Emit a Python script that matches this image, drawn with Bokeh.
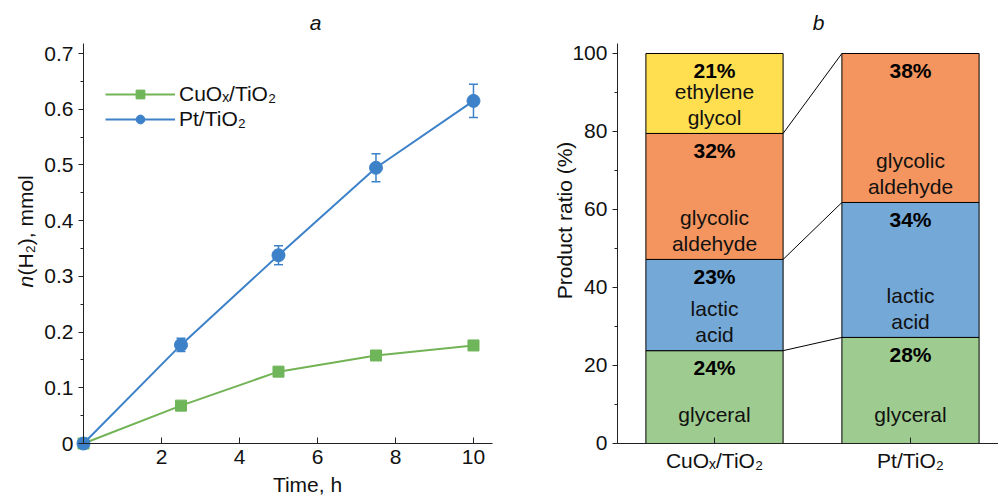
import math
from bokeh.plotting import figure
from bokeh.models import (Range1d, FixedTicker, Whisker, ColumnDataSource, Legend,
                          LegendItem, Label, TeeHead, LinearAxis)
from bokeh.layouts import row
from bokeh.embed import file_html
from bokeh.resources import INLINE
from bokeh.core.properties import value

# ---------------- data: panel a ----------------
time_h = [0, 2.5, 5, 7.5, 10]
cuox_h2 = [0, 0.068, 0.129, 0.158, 0.176]
pt_h2 = [0, 0.177, 0.338, 0.495, 0.615]
pt_err = [0, 0.012, 0.017, 0.025, 0.030]
x_ticks_a = [2, 4, 6, 8, 10]
y_ticks_a = [0, 0.1, 0.2, 0.3, 0.4, 0.5, 0.6, 0.7]
y_tick_labels_a = ["0", "0.1", "0.2", "0.3", "0.4", "0.5", "0.6", "0.7"]

# ---------------- data: panel b ----------------
catalysts = ["CuOₓ/TiO₂", "Pt/TiO₂"]
products = ["glyceral", "lactic\nacid", "glycolic\naldehyde", "ethylene\nglycol"]
cuox_ratio = [23.8, 23.4, 32.3, 20.5]
pt_ratio = [27.2, 34.6, 38.2, 0]
cuox_pct = ["24%", "23%", "32%", "21%"]
pt_pct = ["28%", "34%", "38%", ""]
y_ticks_b = [0, 20, 40, 60, 80, 100]

FONT = "Liberation Sans"
FS = "21px"
AX = "#222222"
TXT = "#111111"
GREEN_L = "#72B356"
GREEN_M = "#6FB55A"
BLUE = "#3D82C9"
prod_colors = ["#9ECB8F", "#74A8D6", "#F4955F", "#FFDF50"]


def make_axes(p, x_loc, y_loc, x_bounds, y_bounds, x_ticker, y_ticker):
    xa = LinearAxis(fixed_location=x_loc, bounds=x_bounds, ticker=x_ticker)
    ya = LinearAxis(fixed_location=y_loc, bounds=y_bounds, ticker=y_ticker)
    for ax in (xa, ya):
        ax.axis_line_color = AX
        ax.major_tick_line_color = AX
        ax.minor_tick_line_color = AX
        ax.major_label_text_font = FONT
        ax.major_label_text_font_size = FS
        ax.major_label_text_color = TXT
    xa.major_tick_in = 6
    xa.major_tick_out = 0
    xa.minor_tick_line_color = None
    xa.major_label_standoff = 6
    ya.major_tick_in = 0
    ya.major_tick_out = 5
    ya.minor_tick_in = 0
    ya.minor_tick_out = 3
    ya.major_label_standoff = 5
    p.add_layout(xa, "below")
    p.add_layout(ya, "left")
    p.grid.visible = False
    p.outline_line_color = None
    return xa, ya


# ================= panel a =================
p1 = figure(width=530, height=497, x_range=Range1d(-2.128, 11.462),
            y_range=Range1d(-0.0969, 0.7952), x_axis_type=None, y_axis_type=None,
            output_backend="svg", toolbar_location=None,
            min_border_left=0, min_border_right=0, min_border_top=0, min_border_bottom=0)
xa1, ya1 = make_axes(p1, 0, 0, (0, 10.5), (0, 0.718),
                     FixedTicker(ticks=x_ticks_a),
                     FixedTicker(ticks=y_ticks_a, minor_ticks=[i * 0.05 for i in range(15)]))
ya1.major_label_overrides = {t: s for t, s in zip(y_ticks_a, y_tick_labels_a)}

gl = p1.line(time_h, cuox_h2, line_color=GREEN_L, line_width=2)
gs = p1.scatter(time_h, cuox_h2, marker="square", size=11, fill_color=GREEN_M, line_color=GREEN_M)

err_src = ColumnDataSource(dict(base=time_h[1:],
                                upper=[v + e for v, e in zip(pt_h2[1:], pt_err[1:])],
                                lower=[v - e for v, e in zip(pt_h2[1:], pt_err[1:])]))
wh = Whisker(source=err_src, base="base", upper="upper", lower="lower",
             line_color=BLUE, line_width=1.5,
             upper_head=TeeHead(size=9, line_color=BLUE, line_width=1.5),
             lower_head=TeeHead(size=9, line_color=BLUE, line_width=1.5))
p1.add_layout(wh)
bl = p1.line(time_h, pt_h2, line_color=BLUE, line_width=2)
bs = p1.scatter(time_h, pt_h2, marker="circle", size=13, fill_color=BLUE, line_color=BLUE)

legend = Legend(items=[LegendItem(label=catalysts[0], renderers=[gl, gs]),
                       LegendItem(label=catalysts[1], renderers=[bl, bs])],
                location=(105, 366), glyph_width=70, glyph_height=22, label_height=22,
                label_text_font=FONT, label_text_font_size=FS, label_standoff=4,
                label_text_color=TXT,
                padding=0, margin=0, spacing=1, border_line_color=None,
                background_fill_alpha=0)
p1.add_layout(legend)

# y axis label with italic n
p1.add_layout(Label(x=-1.487, y=0.280, text="n", angle=math.pi / 2, text_align="left",
                    text_baseline="middle", text_font=FONT, text_font_size=FS,
                    text_font_style="italic", text_color=TXT))
p1.add_layout(Label(x=-1.487, y=0.280, y_offset=12, text="(H₂), mmol", angle=math.pi / 2,
                    text_align="left", text_baseline="middle", text_font=FONT,
                    text_font_size=FS, text_color=TXT))
p1.add_layout(Label(x=5.744, y=-0.0951, text="Time, h", text_align="center",
                    text_baseline="bottom", text_font=FONT, text_font_size=FS,
                    text_color=TXT))
p1.add_layout(Label(x=5.95, y=0.756, text="a", text_align="center", text_baseline="middle",
                    text_font=FONT, text_font_size=FS, text_font_style="italic",
                    text_color=TXT))

# ================= panel b =================
p2 = figure(width=468, height=497, x_range=Range1d(0.0612, 2.449),
            y_range=Range1d(-13.85, 113.59), x_axis_type=None, y_axis_type=None,
            output_backend="svg", toolbar_location=None,
            min_border_left=0, min_border_right=0, min_border_top=0, min_border_bottom=0)
xa2, ya2 = make_axes(p2, 0, 0.505, (0.505, 2.449), (0, 102.6),
                     FixedTicker(ticks=[1, 2]),
                     FixedTicker(ticks=y_ticks_b, minor_ticks=list(range(0, 101, 10))))
xa2.major_label_overrides = {1: catalysts[0], 2: catalysts[1]}

xs, bottoms, tops, colors, pcts, names = [], [], [], [], [], []
cum = {}
for ci, ratios, pl in ((1, cuox_ratio, cuox_pct), (2, pt_ratio, pt_pct)):
    base = 0.0
    cum[ci] = []
    for k, r in enumerate(ratios):
        if r <= 0:
            continue
        xs.append(ci)
        bottoms.append(base)
        tops.append(base + r)
        colors.append(prod_colors[k])
        pcts.append(pl[k])
        names.append(products[k])
        base += r
        cum[ci].append(base)

src = ColumnDataSource(dict(x=xs, bottom=bottoms, top=tops, color=colors, pct=pcts, name=names))
p2.vbar(x="x", width=0.70, bottom="bottom", top="top", fill_color="color",
        line_color="black", line_width=1, source=src)

n_links = min(len(cum[1]), len(cum[2]))
p2.segment(x0=[1.35] * n_links, y0=cum[1][:n_links], x1=[1.65] * n_links, y1=cum[2][:n_links],
           line_color="black", line_width=1)

p2.text(x="x", y="top", text="pct", source=src, text_align="center", text_baseline="middle",
        y_offset=17, text_font=value(FONT), text_font_size=value(FS),
        text_font_style="bold", text_color="black")
p2.text(x="x", y="bottom", text="name", source=src, text_align="center",
        text_baseline="middle", y_offset=-29, text_font=value(FONT),
        text_font_size=value(FS), text_line_height=1.15, text_color=TXT)

p2.add_layout(Label(x=0.235, y=57.2, text="Product ratio (%)", angle=math.pi / 2,
                    text_align="center", text_baseline="middle", text_font=FONT,
                    text_font_size=FS, text_color=TXT))
p2.add_layout(Label(x=1.531, y=107.9, text="b", text_align="center", text_baseline="middle",
                    text_font=FONT, text_font_size=FS, text_font_style="italic",
                    text_color=TXT))

layout = row(p1, p2)
open("out.html", "w").write(file_html(layout, INLINE))
